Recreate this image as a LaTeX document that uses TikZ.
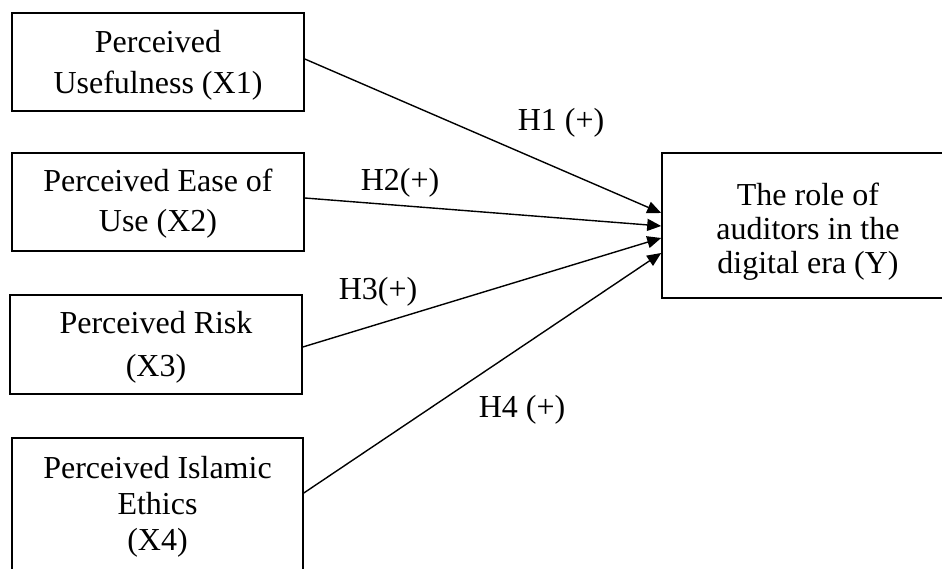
\documentclass[tikz,border=0pt]{standalone}
\usepackage{fontspec}
\setmainfont{Liberation Serif}
\usetikzlibrary{arrows.meta}
\begin{document}
\begin{tikzpicture}[x=1pt,y=-1pt,
  varbox/.style={draw, line width=1.6pt, align=center, inner sep=0pt, minimum width=292pt},
  link/.style={line width=1.4pt, -{Triangle[length=14pt,width=12pt]}},
  hlabel/.style={inner sep=0pt, font=\fontsize{32}{34}\selectfont}]
\clip (0,0) rectangle (942,569);
\node[varbox, minimum height=98pt, font=\fontsize{32}{41}\selectfont] (x1) at (158,62) {\rule{0pt}{28pt}Perceived\\Usefulness (X1)};
\node[varbox, minimum height=98pt, font=\fontsize{32}{40}\selectfont] (x2) at (158,202) {\rule{0pt}{26pt}Perceived Ease of\\Use (X2)};
\node[varbox, minimum height=99pt, font=\fontsize{32}{43}\selectfont] (x3) at (156,344.5) {\rule{0pt}{28pt}Perceived Risk\\(X3)};
\node[varbox, minimum width=291pt, minimum height=138pt, font=\fontsize{32}{36}\selectfont] (x4) at (157.5,507) {Perceived Islamic\\Ethics\\(X4)};
\node[varbox, minimum height=145pt, font=\fontsize{32}{34}\selectfont] (y) at (808,225.5) {\rule{0pt}{34pt}The role of\\auditors in the\\digital era (Y)};
\draw[link] ([yshift=3pt]x1.east) -- ([yshift=12.5pt]y.west);
\draw[link] ([yshift=4pt]x2.east) -- ([yshift=-0.5pt]y.west);
\draw[link] ([yshift=-2.5pt]x3.east) -- ([yshift=-12.5pt]y.west);
\draw[link] ([yshift=14pt]x4.east) -- ([yshift=-27.5pt]y.west);
\node[hlabel] (h1) at (561,123) {H1 (+)};
\node[hlabel] (h2) at (400,183) {H2(+)};
\node[hlabel] (h3) at (378,292) {H3(+)};
\node[hlabel] (h4) at (522,410) {H4 (+)};
\end{tikzpicture}
\end{document}
